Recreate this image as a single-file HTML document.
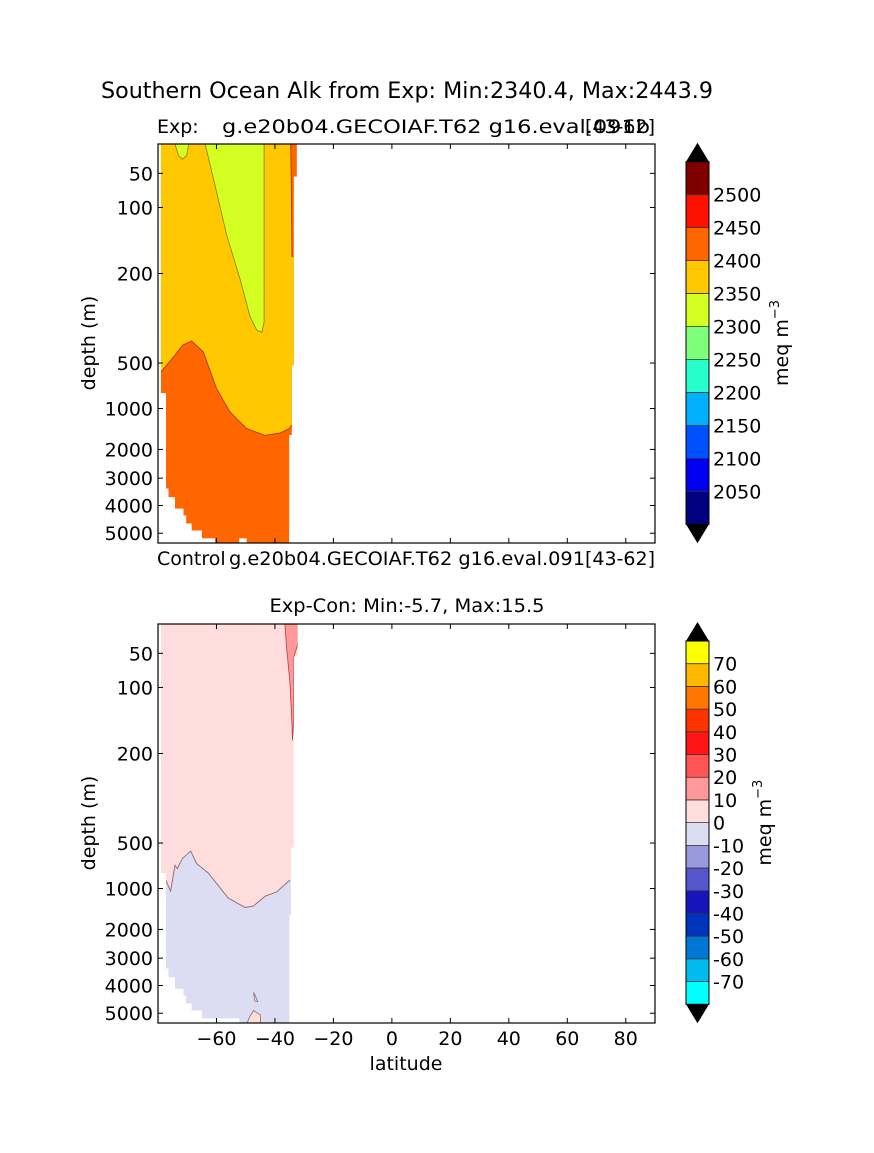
<!DOCTYPE html>
<html><head><meta charset="utf-8">
<style>
html,body{margin:0;padding:0;background:#fff;}
svg{display:block;font-family:"DejaVu Sans","Liberation Sans",sans-serif;}
</style></head>
<body>
<svg id="fig" width="874" height="1153" viewBox="0 0 874 1153" xmlns="http://www.w3.org/2000/svg">
<rect width="874" height="1153" fill="#fff"/>
<text x="407" y="98" font-size="22" text-anchor="middle" textLength="612" lengthAdjust="spacingAndGlyphs">Southern Ocean Alk from Exp: Min:2340.4, Max:2443.9</text>
<text x="157" y="133" font-size="19">Exp:</text>
<text x="222" y="133" font-size="19" textLength="428" lengthAdjust="spacingAndGlyphs">g.e20b04.GECOIAF.T62 g16.eval.091b</text>
<text x="655" y="133" font-size="19" text-anchor="end">[43-62]</text>
<text x="157" y="565" font-size="19">Control</text>
<text x="229" y="565" font-size="19" textLength="356" lengthAdjust="spacingAndGlyphs">g.e20b04.GECOIAF.T62 g16.eval.091</text>
<text x="655" y="565" font-size="19" text-anchor="end">[43-62]</text>
<text x="407" y="612" font-size="19" text-anchor="middle" textLength="275" lengthAdjust="spacingAndGlyphs">Exp-Con: Min:-5.7, Max:15.5</text>
<g id="top"></g>
<g id="bot"></g>
<g id="cb1"></g>
<g id="cb2"></g>
</svg>
<script>
// ---- data ----
const xTicks = [-60,-40,-20,0,20,40,60,80];
const yTicks = [50,100,200,500,1000,2000,3000,4000,5000];
const depthKnots = [0,50,100,200,500,1000,2000,3000,4000,5000,5375];
const depthFrac = [0,0.0735,0.159,0.3245,0.549,0.663,0.7655,0.8375,0.906,0.9755,1];
const maskTop = [[-79,0],[-32.5,0],[-32.5,55],[-33.5,55],[-33.5,525],[-34.2,525],[-34.2,1650],[-35.1,1650],[-35.1,5375],[-49.7,5375],[-49.7,5200],[-52.2,5200],[-52.2,5375],[-60.5,5375],[-60.5,5200],[-65,5200],[-65,4900],[-68.5,4900],[-68.5,4650],[-70.4,4650],[-70.4,4360],[-71.3,4360],[-71.3,4120],[-74.2,4120],[-74.2,3700],[-76.4,3700],[-76.4,3380],[-77.3,3380],[-77.3,830],[-79,830]];
const maskBot = [[-79,0],[-32.2,0],[-32.2,55],[-33.5,55],[-33.5,550],[-34.5,550],[-34.5,1650],[-35.1,1650],[-35.1,5375],[-52.2,5375],[-52.2,5200],[-60.5,5200],[-65,5200],[-65,4900],[-68.5,4900],[-68.5,4650],[-70.4,4650],[-70.4,4360],[-71.3,4360],[-71.3,4120],[-74.2,4120],[-74.2,3700],[-76.4,3700],[-76.4,3380],[-77.3,3380],[-77.3,830],[-79,830]];
const gold = [[-80,0],[-34.6,0],[-34.4,60],[-34.2,175],[-33.5,175],[-33.5,525],[-34.2,525],[-34.2,1400],[-35.1,1490],[-38.3,1600],[-43.4,1656],[-49.7,1490],[-55.4,1083],[-60,781],[-64.5,463],[-68.5,426],[-71.5,440],[-74.2,474],[-79,599],[-80,599]];
const goldLine = [[-34.2,1400],[-35.1,1490],[-38.3,1600],[-43.4,1656],[-49.7,1490],[-55.4,1083],[-60,781],[-64.5,463],[-68.5,426],[-71.5,440],[-74.2,474],[-79,599]];
const orangeLine = [[-34.6,0],[-34.4,60],[-34.2,175]];
const green1 = [[-63.9,0],[-61.1,57],[-56.5,142],[-52,217],[-48.5,345],[-46.2,390],[-44.5,397],[-43.7,363],[-43.7,0]];
const green2 = [[-74.2,0],[-73,20],[-71.7,26],[-70.2,20],[-69.5,0]];
const lav = [[-80,909],[-77.3,909],[-75.7,1066],[-74.2,745],[-73.4,781],[-71.7,671],[-68.8,588],[-66.8,726],[-62.8,829],[-56,1231],[-50.2,1464],[-47.4,1430],[-43.4,1190],[-39.4,1083],[-34.9,906],[-30,906],[-30,5375],[-80,5375]];
const lavLine = [[-77.3,909],[-75.7,1066],[-74.2,745],[-73.4,781],[-71.7,671],[-68.8,588],[-66.8,726],[-62.8,829],[-56,1231],[-50.2,1464],[-47.4,1430],[-43.4,1190],[-39.4,1083],[-34.9,906]];
const redStrip = [[-36.6,0],[-36,41],[-34.9,92],[-34.3,142],[-34,180],[-33.6,150],[-33.5,55],[-30,0]];
const blob1 = [[-49.5,5375],[-48.7,5150],[-47.3,4900],[-46,5000],[-45,5050],[-44.9,5375]];
const blob2 = [[-47.3,4250],[-46.6,4400],[-45.9,4580],[-46.9,4560]];
const cb1Labels = [2050,2100,2150,2200,2250,2300,2350,2400,2450,2500];
const cb1Colors = ["#000080","#0000f0","#0050ff","#00b0ff","#26ffcc","#7dff7a","#d4ff22","#ffc800","#ff6600","#ff1000","#800000"];
const cb2Labels = [-70,-60,-50,-40,-30,-20,-10,0,10,20,30,40,50,60,70];
const cb2Colors = ["#00ffff","#00bbee","#0077d5","#0033bb","#1515bb","#5555cc","#9999dd","#dcdcf2","#ffdddd","#ff9999","#ff5555","#ff1515","#ff3300","#ff7700","#ffb800","#ffff00"];

const NS="http://www.w3.org/2000/svg";
function mk(tag,attrs,parent){const e=document.createElementNS(NS,tag);for(const k in attrs)e.setAttribute(k,attrs[k]);parent.appendChild(e);return e;}

function makeAxes(top){
  const L=158,R=655,T=top,B=top+399;
  const x=v=>L+(v+80)/170*(R-L);
  const y=d=>{for(let i=1;i<depthKnots.length;i++){if(d<=depthKnots[i]){const f=(d-depthKnots[i-1])/(depthKnots[i]-depthKnots[i-1]);return T+(depthFrac[i-1]+f*(depthFrac[i]-depthFrac[i-1]))*(B-T);}}return B;};
  return {L,R,T,B,x,y};
}
function pts(a,arr){return arr.map(p=>a.x(p[0]).toFixed(1)+","+a.y(p[1]).toFixed(1)).join(" ");}

function drawFrame(g,a,showX,ylabelY){
  for(const t of yTicks){
    const yy=a.y(t);
    const l1=mk('line',{x1:a.L,x2:a.L+5,y1:yy,y2:yy,stroke:'#000'},g);
    
    
    mk('line',{x1:a.R,x2:a.R-5,y1:yy,y2:yy,stroke:'#000'},g);
    const tx=mk('text',{x:a.L-5,y:yy+7,'font-size':19,'text-anchor':'end'},g);
    tx.textContent=t;
    
    
  }
  for(const t of xTicks){
    const xx=a.x(t);
    const l=mk('line',{x1:xx,x2:xx,y1:a.B,y2:a.B-5,stroke:'#000'},g);
    
    
    mk('line',{x1:xx,x2:xx,y1:a.T,y2:a.T+5,stroke:'#000'},g);
    if(showX){
      const tx=mk('text',{x:xx,y:a.B+22,'font-size':19,'text-anchor':'middle'},g);
      tx.textContent=(t<0?"\u2212"+(-t):t);
      
      
    }
  }
  const r=mk('rect',{x:a.L,y:a.T,width:a.R-a.L,height:a.B-a.T,fill:'none',stroke:'#000','stroke-width':1.2},g);
  
  
  const yl=mk('text',{x:0,y:0,'font-size':19,'text-anchor':'middle',transform:`translate(95,${ylabelY}) rotate(-90)`},g);
  yl.textContent='depth (m)';
  
  
}

(function(){
  const g=document.getElementById('top');
  const a=makeAxes(144);
  const cp=mk('clipPath',{id:'m1'},g);
  mk('polygon',{points:pts(a,maskTop)},cp);
  const fg=mk('g',{'clip-path':'url(#m1)'},g);
  const base=mk('polygon',{points:pts(a,maskTop),fill:'#ff6600'},fg);
  
  
  const gd=mk('polygon',{points:pts(a,gold),fill:'#ffc800'},fg);
  
  
  for(const gr of [green1,green2]){
    const p=mk('polygon',{points:pts(a,gr),fill:'#d4ff22',stroke:'#8a7a00','stroke-width':0.8},fg);
    
    
  }
  const c1=mk('polyline',{points:pts(a,goldLine),fill:'none',stroke:'#a63a00','stroke-width':0.9},fg);
  
  
  const c2=mk('polyline',{points:pts(a,orangeLine),fill:'none',stroke:'#a63a00','stroke-width':0.9},fg);
  
  
  drawFrame(g,a,false,343);
})();

(function(){
  const g=document.getElementById('bot');
  const a=makeAxes(624);
  const cp=mk('clipPath',{id:'m2'},g);
  mk('polygon',{points:pts(a,maskBot)},cp);
  const fg=mk('g',{'clip-path':'url(#m2)'},g);
  const base=mk('polygon',{points:pts(a,maskBot),fill:'#ffdddd'},fg);
  
  
  const lv=mk('polygon',{points:pts(a,lav),fill:'#dcdcf2'},fg);
  
  
  const ln=mk('polyline',{points:pts(a,lavLine),fill:'none',stroke:'#8a6a70','stroke-width':0.9},fg);
  
  
  for(const b of [blob1,blob2]){
    const p=mk('polygon',{points:pts(a,b),fill:'#ffdddd',stroke:'#8a6a70','stroke-width':0.8},fg);
    
    
  }
  const rs=mk('polygon',{points:pts(a,redStrip),fill:'#ff9999',stroke:'#b04040','stroke-width':0.8},fg);
  
  
  drawFrame(g,a,true,823);
  const xl=mk('text',{x:406,y:1070,'font-size':19,'text-anchor':'middle'},g);
  xl.textContent='latitude';
  
  
})();

function colorbar(id,top,bottom,colors,labels,vmin,step,unitX){
  const g=document.getElementById(id);
  const L=686,R=709;
  const n=colors.length, h=(bottom-top)/n;
  colors.forEach((c,i)=>{
    const r=mk('rect',{x:L,y:bottom-(i+1)*h,width:R-L,height:h+0.3,fill:c},g);
    
    
    if(i>0) mk('line',{x1:L,x2:R,y1:bottom-i*h,y2:bottom-i*h,stroke:'#333','stroke-width':0.8},g);
  });
  const up=mk('polygon',{points:`${L},${top} ${R},${top} ${(L+R)/2},${top-19}`,fill:'#000'},g);
  
  
  const dn=mk('polygon',{points:`${L},${bottom} ${R},${bottom} ${(L+R)/2},${bottom+19}`,fill:'#000'},g);
  
  
  mk('rect',{x:L,y:top,width:R-L,height:bottom-top,fill:'none',stroke:'#000','stroke-width':1},g);
  labels.forEach(v=>{
    const yy=bottom-(v-vmin)/step*h;
    const t=mk('text',{x:713,y:yy+7,'font-size':19},g);
    t.textContent=v;
    
    
  });
  const u=mk('text',{x:0,y:0,'font-size':19,'text-anchor':'middle',transform:`translate(${unitX},${(top+bottom)/2}) rotate(-90)`},g);
  u.innerHTML='meq m<tspan dy="-9" font-size="13">\u22123</tspan>';
  
  
}
colorbar('cb1',161.7,524.3,cb1Colors,cb1Labels,2000,50,788);
colorbar('cb2',641,1004.3,cb2Colors,cb2Labels,-80,10,771);
</script>
</body></html>
